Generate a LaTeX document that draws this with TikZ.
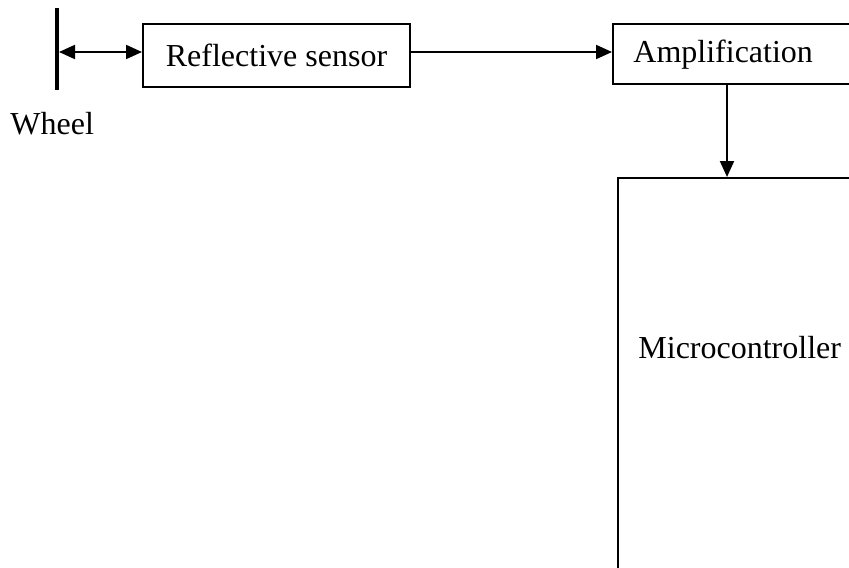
\documentclass[tikz,border=0pt]{standalone}
\usepackage{fontspec}
\setmainfont{Liberation Serif}
\usetikzlibrary{arrows.meta}

\begin{document}
\begin{tikzpicture}[x=0.5pt, y=-0.5pt, font=\fontsize{16}{19}\selectfont,
		block/.style={draw, line width=1pt, inner sep=0pt, anchor=north west},
		label/.style={inner sep=0pt, anchor=base west},
		head/.tip={Triangle[length=8pt, width=7pt]},
		link/.style={line width=1pt, -head}]
	\useasboundingbox (0,0) rectangle (849,567);
	% wheel
	\coordinate (wtop) at (57,8);
	\coordinate (wbot) at (57,90);
	\coordinate (wmid) at (59,52);
	\draw[line width=2pt] (wtop) -- (wbot);
	\node[label] (wheel) at (10,134) {Wheel};
	% blocks
	\node[block, minimum width=133.5pt, minimum height=31.5pt] (sensor) at (142,23) {Reflective sensor};
	\node[block, minimum width=150pt, minimum height=30pt] (amp) at (612,23) {};
	\node[label] (amptext) at (633,63) {Amplification};
	\node[block, minimum width=150pt, minimum height=240pt] (micro) at (617,177) {};
	\node[label] (microtext) at (638,358) {Microcontroller};
	% links
	\draw[link, head-head] (wmid) -- (sensor.west |- wmid);
	\draw[link] (sensor.east |- wmid) -- (amp.west |- wmid);
	\draw[link] ([xshift=57.5pt]amp.south west) -- ([xshift=55pt]micro.north west);
\end{tikzpicture}
\end{document}
